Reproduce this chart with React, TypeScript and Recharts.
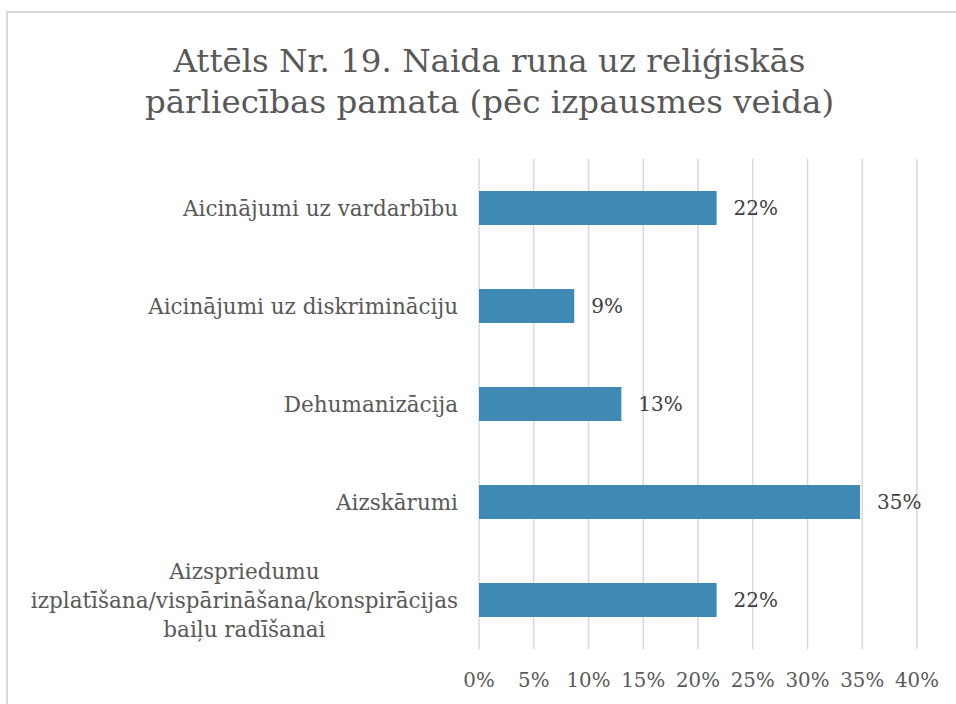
import React from "react";
import { BarChart, Bar, XAxis, YAxis, CartesianGrid, LabelList } from "recharts";

const categories = [
  "Aicinājumi uz vardarbību",
  "Aicinājumi uz diskrimināciju",
  "Dehumanizācija",
  "Aizskārumi",
  "Aizspriedumu\nizplatīšana/vispārināšana/konspirācijas\nbaiļu radīšanai",
];
const shares = [0.217, 0.087, 0.13, 0.348, 0.217];
const xTicks = [0, 0.05, 0.1, 0.15, 0.2, 0.25, 0.3, 0.35, 0.4];
const titleLines = [
  "Attēls Nr. 19. Naida runa uz reliģiskās",
  "pārliecības pamata (pēc izpausmes veida)",
];

const FONT = "'DejaVu Serif', serif";
const data = categories.map((name, i) => ({ name, value: shares[i] }));

const pct = (v: number) => `${Math.round(v * 100)}%`;

let ctx: CanvasRenderingContext2D | null = null;
const measure = (s: string, size: number) => {
  if (!ctx) ctx = document.createElement("canvas").getContext("2d");
  if (!ctx) return s.length * size * 0.55;
  ctx.font = `${size}px 'DejaVu Serif'`;
  return ctx.measureText(s).width;
};

const CategoryTick = ({ x, y, payload }: any) => {
  const lines = String(payload.value).split("\n");
  const size = 21.5;
  const lh = 29;
  if (lines.length === 1) {
    return (
      <text x={x} y={y} dy="0.35em" textAnchor="end" fill="#595959" fontSize={size} fontFamily={FONT}>
        {lines[0]}
      </text>
    );
  }
  const w = Math.max(...lines.map((l) => measure(l, size)));
  const cx = x - w / 2;
  const y0 = y - ((lines.length - 1) * lh) / 2;
  return (
    <text textAnchor="middle" fill="#595959" fontSize={size} fontFamily={FONT}>
      {lines.map((l, i) => (
        <tspan key={i} x={cx} y={y0 + i * lh} dy="0.35em">
          {l}
        </tspan>
      ))}
    </text>
  );
};

export default function App() {
  return (
    <div
      style={{
        position: "absolute",
        left: 0,
        top: 0,
        width: 956,
        height: 704,
        overflow: "hidden",
        background: "#fff",
      }}
    >
      <div
        style={{
          position: "absolute",
          left: 6,
          top: 11,
          width: 980,
          height: 720,
          border: "2px solid #d9d9d9",
        }}
      />
      <div
        style={{
          position: "absolute",
          left: 7,
          top: 41,
          width: 965,
          textAlign: "center",
          fontFamily: FONT,
          fontSize: 32.5,
          lineHeight: "41px",
          color: "#595959",
        }}
      >
        {titleLines.map((t) => (
          <div key={t}>{t}</div>
        ))}
      </div>
      <div style={{ position: "absolute", left: 0, top: 0 }}>
        <BarChart
          width={956}
          height={704}
          data={data}
          layout="vertical"
          margin={{ top: 159, right: 39, left: 0, bottom: 0 }}
        >
          <CartesianGrid horizontal={false} stroke="#d9d9d9" strokeWidth={1.5} />
          <XAxis
            type="number"
            domain={[0, 0.4]}
            ticks={xTicks}
            tickFormatter={pct}
            axisLine={false}
            tickLine={false}
            tickSize={0}
            tickMargin={24}
            height={55}
            interval={0}
            tick={{ fill: "#595959", fontSize: 19.8, fontFamily: FONT }}
          />
          <YAxis
            type="category"
            dataKey="name"
            width={479}
            axisLine={false}
            tickLine={false}
            tickSize={0}
            tickMargin={21}
            interval={0}
            tick={<CategoryTick />}
          />
          <Bar dataKey="value" fill="#3F8AB4" barSize={34} isAnimationActive={false}>
            <LabelList
              dataKey="value"
              position="right"
              offset={17}
              formatter={(v: any) => pct(Number(v))}
              fill="#404040"
              fontSize={20}
              fontFamily={FONT}
            />
          </Bar>
        </BarChart>
      </div>
    </div>
  );
}
